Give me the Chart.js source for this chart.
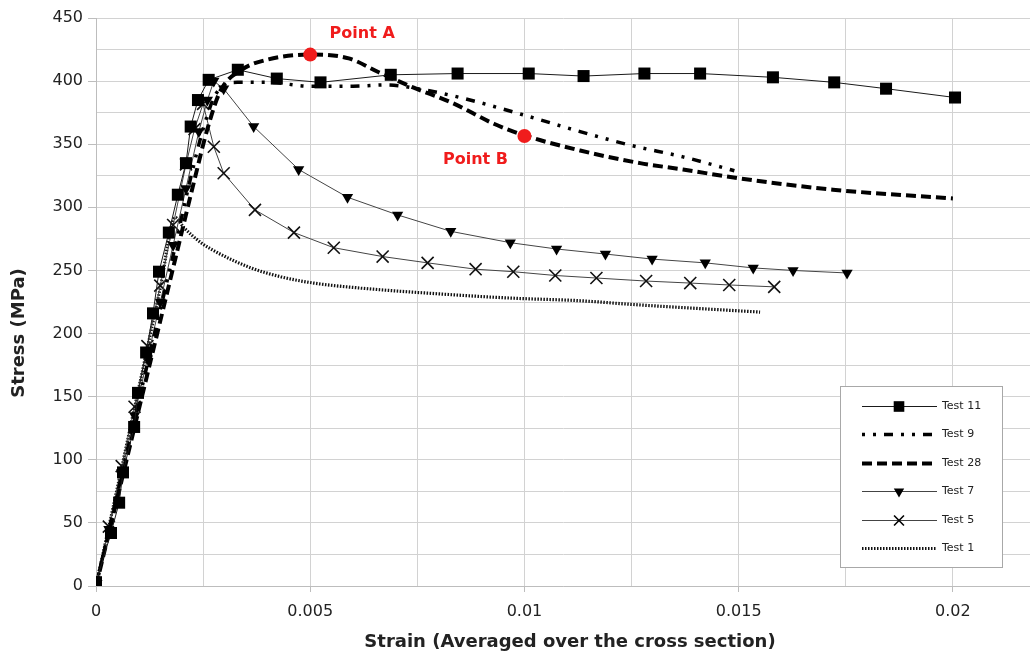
<!DOCTYPE html>
<html>
<head>
<meta charset="utf-8">
<script src="https://cdn.jsdelivr.net/npm/chart.js"></script>
<style>
  html, body { margin: 0; padding: 0; background: #fff; }
</style>
</head>
<body>
<canvas id="stressChart" width="1030" height="661"></canvas>
<script>
// values (strain, stress in MPa)
const test11Strain = [0, 0.00035, 0.00054, 0.00063, 0.00089, 0.00098, 0.00117, 0.00133, 0.00147, 0.0017, 0.00191, 0.0021, 0.00221, 0.00238, 0.00263, 0.00331, 0.00422, 0.00524, 0.00688, 0.00844, 0.0101, 0.01138, 0.0128, 0.0141, 0.0158, 0.01723, 0.01844, 0.02005];
const test11Stress = [3, 42, 66, 90, 126, 153, 185, 216, 249, 280, 310, 335, 364, 385, 401, 409, 402, 399, 405, 406, 406, 404, 406, 406, 403, 399, 394, 387];

const test9Strain = [0, 0.0006, 0.0012, 0.0018, 0.0022, 0.0025, 0.0028, 0.0033, 0.004, 0.005, 0.006, 0.0068, 0.0075, 0.0085, 0.01, 0.0113, 0.0125, 0.0137, 0.0149];
const test9Stress = [0, 88, 176, 262, 322, 362, 390, 399, 399, 396, 396, 397, 394, 387, 373, 360, 349, 340, 329];

const test28Strain = [0, 0.0006, 0.0012, 0.0018, 0.0023, 0.0026, 0.0029, 0.0034, 0.004, 0.005, 0.0059, 0.0066, 0.0074, 0.0083, 0.0093, 0.01, 0.0113, 0.0127, 0.0137, 0.015, 0.0172, 0.02];
const test28Stress = [0, 84, 168, 252, 322, 362, 392, 409, 417, 421, 418, 407, 395, 383, 366, 357, 345, 335, 330, 323, 314, 307];

const test7Strain = [0, 0.0003, 0.0006, 0.0009, 0.0012, 0.0015, 0.0018, 0.0021, 0.0024, 0.0026, 0.00275, 0.00298, 0.00368, 0.00473, 0.00587, 0.00704, 0.00828, 0.00967, 0.01075, 0.01189, 0.01298, 0.01422, 0.01534, 0.01627, 0.01753];
const test7Stress = [0, 45, 90, 135, 180, 225, 270, 315, 360, 385, 400, 394, 364, 330, 308, 294, 281, 272, 267, 263, 259, 256, 252, 250, 248];

const test5Strain = [0, 0.0003, 0.0006, 0.0009, 0.0012, 0.0015, 0.0018, 0.0021, 0.0023, 0.0025, 0.00275, 0.00298, 0.00371, 0.00462, 0.00555, 0.00669, 0.00774, 0.00886, 0.00974, 0.01072, 0.01168, 0.01284, 0.01387, 0.01478, 0.01583];
const test5Stress = [0, 47, 95, 142, 190, 238, 286, 334, 362, 382, 348, 327, 298, 280, 268, 261, 256, 251, 249, 246, 244, 241.6, 240, 238.5, 237];

const test1Strain = [0, 0.0005, 0.001, 0.0015, 0.00185, 0.00205, 0.00245, 0.00284, 0.00362, 0.00431, 0.00508, 0.00618, 0.0082, 0.00974, 0.0113, 0.01254, 0.0155];
const test1Stress = [0, 78, 157, 236, 292, 284, 272, 264, 252, 245, 240, 236, 231, 228, 226, 223, 217];

const markedStrain = [0.005, 0.01];
const markedStress = [421, 356.5];
const markedLabels = ['Point A', 'Point B'];

const strainTicks = [0, 0.0025, 0.005, 0.0075, 0.01, 0.0125, 0.015, 0.0175, 0.02];

function toPoints(xs, ys) {
  return xs.map((x, i) => ({ x: x, y: ys[i] }));
}

function isMultiple(v, step) {
  const r = v / step;
  return Math.abs(r - Math.round(r)) < 1e-6;
}

const textColor = '#222';
const gridColor = '#d2d2d2';

// legend drawn inside the plot, bottom right
const legendBox = {
  id: 'legendBox',
  afterDraw(chart) {
    const ctx = chart.ctx;
    ctx.save();
    ctx.fillStyle = '#fff';
    ctx.strokeStyle = '#a8a8a8';
    ctx.lineWidth = 1;
    ctx.fillRect(840.5, 386.5, 162, 181);
    ctx.strokeRect(840.5, 386.5, 162, 181);

    chart.data.datasets.forEach((ds) => {
      if (ds.legendRow === undefined) return;
      const y = Math.round(406 + ds.legendRow * 28.4) + 0.5;
      ctx.strokeStyle = ds.borderColor;
      ctx.lineWidth = ds.borderWidth;
      ctx.setLineDash(ds.borderDash || []);
      ctx.beginPath();
      ctx.moveTo(862, y);
      ctx.lineTo(937, y);
      ctx.stroke();
      ctx.setLineDash([]);

      const mx = 899;
      const r = ds.legendMarker || 0;
      ctx.fillStyle = '#000';
      ctx.strokeStyle = '#000';
      if (ds.pointStyle === 'rect' && r > 0) {
        const s = r * Math.SQRT1_2;
        ctx.fillRect(mx - s, y - s, 2 * s, 2 * s);
      } else if (ds.pointStyle === 'triangle' && r > 0) {
        ctx.beginPath();
        ctx.moveTo(mx, y + r);
        ctx.lineTo(mx - r * 0.866, y - r / 2);
        ctx.lineTo(mx + r * 0.866, y - r / 2);
        ctx.closePath();
        ctx.fill();
      } else if (ds.pointStyle === 'crossRot' && r > 0) {
        const s = r * Math.SQRT1_2;
        ctx.lineWidth = ds.pointBorderWidth || 1;
        ctx.beginPath();
        ctx.moveTo(mx - s, y - s); ctx.lineTo(mx + s, y + s);
        ctx.moveTo(mx - s, y + s); ctx.lineTo(mx + s, y - s);
        ctx.stroke();
      }

      ctx.fillStyle = textColor;
      ctx.font = '11px "DejaVu Sans"';
      ctx.textBaseline = 'middle';
      ctx.textAlign = 'left';
      ctx.fillText(ds.label, 942, y);
    });
    ctx.restore();
  }
};

// "Point A" / "Point B" captions and both axis titles
const captions = {
  id: 'captions',
  afterDatasetsDraw(chart) {
    const ctx = chart.ctx;
    const xs = chart.scales.x;
    const ys = chart.scales.y;
    const offsets = [[52, -21], [-49, 24]];
    ctx.save();
    ctx.fillStyle = '#f01c1c';
    ctx.font = 'bold 16px "DejaVu Sans"';
    ctx.textAlign = 'center';
    ctx.textBaseline = 'middle';
    markedLabels.forEach((txt, i) => {
      const px = xs.getPixelForValue(markedStrain[i]) + offsets[i][0];
      const py = ys.getPixelForValue(markedStress[i]) + offsets[i][1];
      ctx.fillText(txt, px, py);
    });

    ctx.fillStyle = textColor;
    ctx.font = 'bold 18px "DejaVu Sans"';
    ctx.fillText('Strain (Averaged over the cross section)', 570, 642);

    ctx.translate(19, 333);
    ctx.rotate(-Math.PI / 2);
    ctx.fillText('Stress (MPa)', 0, 0);
    ctx.restore();
  }
};

const ctx = document.getElementById('stressChart').getContext('2d');
new Chart(ctx, {
  type: 'scatter',
  data: {
    datasets: [
      {
        label: 'Points',
        data: toPoints(markedStrain, markedStress),
        showLine: false,
        pointRadius: 7,
        pointBackgroundColor: '#f01c1c',
        pointBorderColor: '#f01c1c',
        pointBorderWidth: 0
      },
      {
        label: 'Test 11',
        legendRow: 0,
        legendMarker: 7.5,
        data: toPoints(test11Strain, test11Stress),
        showLine: true,
        borderColor: '#1a1a1a',
        borderWidth: 1,
        pointStyle: 'rect',
        pointRadius: 8.5,
        pointBackgroundColor: '#000',
        pointBorderColor: '#000',
        pointBorderWidth: 0
      },
      {
        label: 'Test 9',
        legendRow: 1,
        data: toPoints(test9Strain, test9Stress),
        showLine: true,
        borderColor: '#000',
        borderWidth: 3.5,
        borderDash: [3, 8, 3, 8, 9, 8],
        cubicInterpolationMode: 'monotone',
        pointRadius: 0
      },
      {
        label: 'Test 28',
        legendRow: 2,
        data: toPoints(test28Strain, test28Stress),
        showLine: true,
        borderColor: '#000',
        borderWidth: 4,
        borderDash: [10, 5],
        cubicInterpolationMode: 'monotone',
        pointRadius: 0
      },
      {
        label: 'Test 7',
        legendRow: 3,
        legendMarker: 6,
        data: toPoints(test7Strain, test7Stress),
        showLine: true,
        borderColor: '#444',
        borderWidth: 1,
        pointStyle: 'triangle',
        rotation: 180,
        pointRadius: 6.5,
        pointBackgroundColor: '#000',
        pointBorderColor: '#000',
        pointBorderWidth: 0
      },
      {
        label: 'Test 5',
        legendRow: 4,
        legendMarker: 7,
        data: toPoints(test5Strain, test5Stress),
        showLine: true,
        borderColor: '#444',
        borderWidth: 1,
        pointStyle: 'crossRot',
        pointRadius: 8.5,
        pointBorderColor: '#111',
        pointBorderWidth: 1.6
      },
      {
        label: 'Test 1',
        legendRow: 5,
        data: toPoints(test1Strain, test1Stress),
        showLine: true,
        borderColor: '#111',
        borderWidth: 3.2,
        borderDash: [1.5, 1.5],
        cubicInterpolationMode: 'monotone',
        pointRadius: 0
      }
    ]
  },
  options: {
    responsive: false,
    animation: false,
    layout: { autoPadding: false, padding: { top: 18, right: 0, left: 0, bottom: 0 } },
    plugins: {
      legend: { display: false },
      tooltip: { enabled: false }
    },
    scales: {
      x: {
        type: 'linear',
        min: 0,
        max: 0.0218,
        afterFit: (s) => {
          s.height = 75;
          s.paddingLeft = 0;
          s.paddingRight = 0;
        },
        afterBuildTicks: (s) => { s.ticks = strainTicks.map((v) => ({ value: v })); },
        ticks: {
          autoSkip: false,
          maxRotation: 0,
          padding: 10,
          color: textColor,
          font: { family: 'DejaVu Sans', size: 16 },
          callback: (v) => (isMultiple(v, 0.005) ? String(parseFloat(v.toFixed(4))) : '')
        },
        grid: {
          color: gridColor,
          tickLength: 6,
          tickColor: (c) => (c.tick && isMultiple(c.tick.value, 0.005) ? '#bdbdbd' : 'rgba(0,0,0,0)')
        },
        border: { color: '#bdbdbd' }
      },
      y: {
        min: 0,
        max: 450,
        afterFit: (s) => { s.width = 96; },
        ticks: {
          stepSize: 25,
          padding: 5,
          color: textColor,
          font: { family: 'DejaVu Sans', size: 16 },
          callback: (v) => (v % 50 === 0 ? String(v) : '')
        },
        grid: {
          color: gridColor,
          tickLength: 8,
          tickColor: (c) => (c.tick && c.tick.value % 50 === 0 ? '#bdbdbd' : 'rgba(0,0,0,0)')
        },
        border: { color: '#bdbdbd' }
      }
    }
  },
  plugins: [legendBox, captions]
});
</script>
</body>
</html>
